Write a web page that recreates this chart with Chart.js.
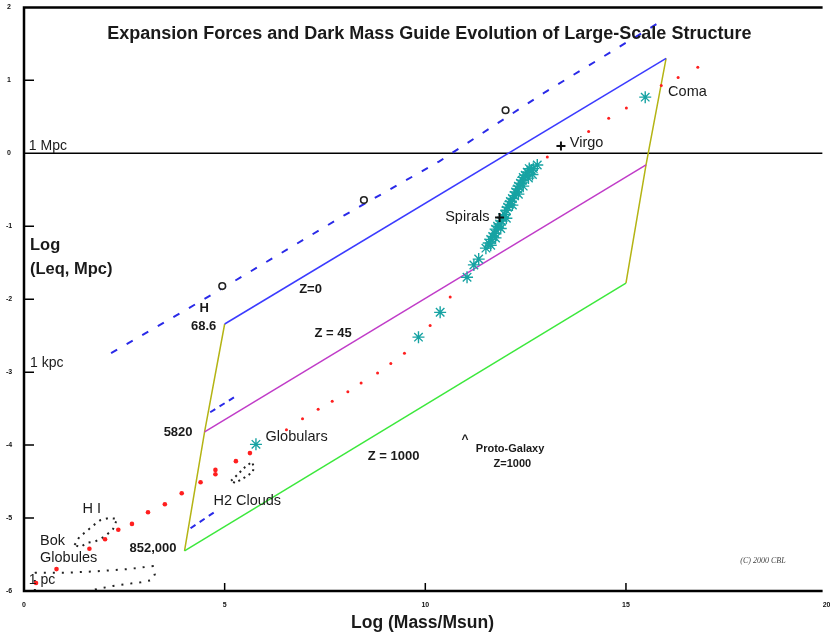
<!DOCTYPE html>
<html lang="en">
<head>
<meta charset="utf-8">
<title>Large-Scale Structure</title>
<script src="https://cdn.jsdelivr.net/npm/chart.js@4.4.1/dist/chart.umd.min.js"></script>
<style>
body {margin: 0; background: #fff;}
canvas {display: block;}
</style>
</head>
<body>
<canvas id="lss" width="830" height="636"></canvas>
<script>
// tick labels
const xTicks = [0, 5, 10, 15, 20];
const yTicks = [2, 1, 0, -1, -2, -3, -4, -5, -6];

// red dots : main sequence
const seqX = [0.30, 0.81, 1.63, 2.02, 2.35, 2.69, 3.09, 3.51, 3.93, 4.40, 4.77, 4.77, 5.28, 5.63, 6.54, 6.94, 7.33, 7.68, 8.07, 8.40, 8.81, 9.14, 9.48, 10.12, 10.62, 13.04, 14.07, 14.57, 15.01, 15.88, 16.30, 16.79];
const seqY = [-5.89, -5.70, -5.42, -5.29, -5.16, -5.08, -4.92, -4.81, -4.66, -4.51, -4.34, -4.40, -4.22, -4.11, -3.79, -3.64, -3.51, -3.40, -3.27, -3.15, -3.01, -2.88, -2.74, -2.36, -1.97, -0.05, 0.30, 0.48, 0.62, 0.93, 1.04, 1.18];

// teal asterisks : globulars, spirals, coma
const starX = [5.78, 9.83, 10.37, 11.04, 11.21, 11.33, 11.51, 11.58, 11.63, 11.68, 11.73, 11.75, 11.80, 11.85, 11.90, 11.93, 11.98, 12.02, 12.05, 12.10, 12.12, 12.17, 12.22, 12.25, 12.30, 12.32, 12.37, 12.42, 12.44, 12.49, 12.54, 12.59, 12.64, 12.69, 12.79, 11.88, 12.02, 12.17, 12.32, 12.44, 12.57, 12.67, 11.75, 11.63, 15.48];
const starY = [-3.99, -2.52, -2.18, -1.70, -1.53, -1.45, -1.30, -1.23, -1.18, -1.14, -1.10, -1.04, -1.00, -0.97, -0.93, -0.88, -0.84, -0.78, -0.74, -0.70, -0.66, -0.62, -0.58, -0.53, -0.49, -0.45, -0.41, -0.37, -0.33, -0.30, -0.26, -0.21, -0.23, -0.21, -0.16, -1.03, -0.89, -0.71, -0.56, -0.45, -0.34, -0.29, -1.16, -1.26, 0.77];

// black crosses (Spirals, Virgo) and rings
const plusX = [11.85, 13.38];
const plusY = [-0.88, 0.10];
const ringX = [4.94, 8.47, 12.0];
const ringY = [-1.82, -0.64, 0.59];

// redshift lines and parallelogram edges
const zeroX = [5, 16],     zeroY = [-2.34, 1.30];
const z45X = [4.5, 15.5],  z45Y = [-3.82, -0.16];
const z1000X = [4, 15],    z1000Y = [-5.45, -1.78];
const leftX = [5, 4.5, 4],     leftY = [-2.34, -3.82, -5.45];
const rightX = [16, 15.5, 15], rightY = [1.30, -0.16, -1.78];
const mpcX = [0, 19.9], mpcY = [0, 0];

// blue dashed tracks
const hubX = [2.17, 4.52, 7.98, 10.35, 12.99, 15.85];
const hubY = [-2.74, -1.99, -0.85, -0.11, 0.84, 1.80];
const dashAX = [4.64, 5.31], dashAY = [-3.55, -3.32];
const dashBX = [4.15, 4.74], dashBY = [-5.14, -4.92];

// dotted contours
const h2X = [5.16, 5.33, 5.51, 5.68, 5.73, 5.70, 5.51, 5.26, 5.16];
const h2Y = [-4.49, -4.40, -4.30, -4.23, -4.30, -4.37, -4.44, -4.52, -4.49];
const hiX = [1.26, 1.38, 1.56, 1.73, 1.90, 2.10, 2.32, 2.22, 2.02, 1.78, 1.56, 1.41, 1.26];
const hiY = [-5.37, -5.26, -5.18, -5.10, -5.03, -5.00, -5.01, -5.15, -5.25, -5.32, -5.34, -5.40, -5.37];
const bokX = [0.27, 1.06, 1.80, 2.57, 3.21, 3.26, 3.19, 2.91, 2.22, 1.85, 1.51, 0.89, 0.27, 0.27];
const bokY = [-5.75, -5.75, -5.73, -5.70, -5.66, -5.77, -5.85, -5.88, -5.93, -5.97, -6.01, -6.01, -6.01, -5.75];

function pts(xs, ys) {
	return xs.map(function (v, i) { return {x: v, y: ys[i]}; });
}

function line(xs, ys, color, extra) {
	return Object.assign({
		data: pts(xs, ys),
		showLine: true,
		borderColor: color,
		borderWidth: 1.5,
		pointRadius: 0,
		tension: 0
	}, extra || {});
}

const FONT = '"Liberation Sans", Arial, sans-serif';

// text written in the plot, placed in data units
const notes = [
	['1 Mpc', 0.12, 0.10, '14px', 'left'],
	['1 kpc', 0.15, -2.88, '14px', 'left'],
	['Log', 0.15, -1.27, 'bold 16.5px', 'left'],
	['(Leq, Mpc)', 0.15, -1.59, 'bold 16.5px', 'left'],
	['H', 4.49, -2.12, 'bold 13px', 'center'],
	['68.6', 4.79, -2.37, 'bold 13px', 'right'],
	['Z=0', 7.14, -1.86, 'bold 13px', 'center'],
	['Z = 45', 7.70, -2.47, 'bold 13px', 'center'],
	['5820', 4.20, -3.82, 'bold 13px', 'right'],
	['Globulars', 6.02, -3.89, '14.5px', 'left'],
	['Z = 1000', 9.21, -4.16, 'bold 13px', 'center'],
	['^', 10.99, -3.93, 'bold 12px', 'center'],
	['Proto-Galaxy', 11.26, -4.05, 'bold 11px', 'left'],
	['Z=1000', 12.17, -4.26, 'bold 11px', 'center'],
	['H2 Clouds', 4.72, -4.77, '14.5px', 'left'],
	['H I', 1.46, -4.88, '14.5px', 'left'],
	['Bok', 0.40, -5.32, '14.5px', 'left'],
	['Globules', 0.40, -5.55, '14.5px', 'left'],
	['852,000', 3.80, -5.42, 'bold 13px', 'right'],
	['1 pc', 0.12, -5.85, '14px', 'left'],
	['Spirals', 11.60, -0.88, '14.5px', 'right'],
	['Virgo', 13.60, 0.14, '14.5px', 'left'],
	['Coma', 16.05, 0.84, '14.5px', 'left']
];

const frame = {
	id: 'frame',
	afterDraw: function (chart) {
		const ctx = chart.ctx, a = chart.chartArea;
		const x = chart.scales.x, y = chart.scales.y;
		ctx.save();
		ctx.strokeStyle = '#000';
		ctx.lineWidth = 2.5;
		ctx.beginPath();
		ctx.moveTo(a.right, a.top);
		ctx.lineTo(a.left, a.top);
		ctx.lineTo(a.left, a.bottom);
		ctx.lineTo(a.right, a.bottom);
		ctx.stroke();

		// tick marks, inside the frame
		ctx.lineWidth = 1.5;
		ctx.beginPath();
		yTicks.forEach(function (t) {
			if (t === 2 || t === -6 || t === 0) return;
			const py = y.getPixelForValue(t);
			ctx.moveTo(a.left, py);
			ctx.lineTo(a.left + 10, py);
		});
		xTicks.forEach(function (t) {
			if (t === 0 || t === 20) return;
			const px = x.getPixelForValue(t);
			ctx.moveTo(px, a.bottom);
			ctx.lineTo(px, a.bottom - 8);
		});
		ctx.stroke();

		// tick labels
		ctx.fillStyle = '#111';
		ctx.font = 'bold 7px ' + FONT;
		ctx.textAlign = 'center';
		ctx.textBaseline = 'middle';
		yTicks.forEach(function (t) {
			ctx.fillText(String(t), a.left - 15, y.getPixelForValue(t));
		});
		xTicks.forEach(function (t) {
			ctx.fillText(String(t), x.getPixelForValue(t), a.bottom + 14);
		});

		// titles
		ctx.fillStyle = '#1a1a1a';
		ctx.font = 'bold 18px ' + FONT;
		ctx.fillText('Expansion Forces and Dark Mass Guide Evolution of Large-Scale Structure',
			x.getPixelForValue(10.1), y.getPixelForValue(1.64));
		ctx.font = 'bold 17.5px ' + FONT;
		ctx.fillText('Log (Mass/Msun)', x.getPixelForValue(9.93), a.bottom + 32);

		notes.forEach(function (n) {
			ctx.font = n[3] + ' ' + FONT;
			ctx.textAlign = n[4];
			ctx.fillText(n[0], x.getPixelForValue(n[1]), y.getPixelForValue(n[2]));
		});

		ctx.font = 'italic 8px "Liberation Serif", serif';
		ctx.textAlign = 'left';
		ctx.fillStyle = '#444';
		ctx.fillText('(C) 2000 CBL', x.getPixelForValue(17.85), y.getPixelForValue(-5.59));
		ctx.restore();
	}
};

new Chart(document.getElementById('lss'), {
	type: 'scatter',
	data: {
		datasets: [
			{data: pts(plusX, plusY), pointStyle: 'cross', pointRadius: 4.5, borderColor: '#111', borderWidth: 2},
			{data: pts(starX, starY), pointStyle: 'star', pointRadius: 6, borderColor: '#17a3a3', borderWidth: 1.4},
			{data: pts(ringX, ringY), pointStyle: 'circle', pointRadius: 3.3, borderColor: '#222', backgroundColor: '#fff', borderWidth: 1.6},
			{data: pts(seqX, seqY), pointStyle: 'circle', borderWidth: 0, backgroundColor: '#ff1f1f',
				pointRadius: function (c) { return c.raw && c.raw.x < 6 ? 2.3 : 1.5; }},
			line(h2X, h2Y, '#222', {borderWidth: 2, borderDash: [2, 4]}),
			line(hiX, hiY, '#222', {borderWidth: 2, borderDash: [2, 5]}),
			line(bokX, bokY, '#222', {borderWidth: 2, borderDash: [2, 7]}),
			line(hubX, hubY, '#2a2ae8', {borderWidth: 2, borderDash: [7, 11]}),
			line(dashAX, dashAY, '#2a2ae8', {borderWidth: 2, borderDash: [6, 5]}),
			line(dashBX, dashBY, '#2a2ae8', {borderWidth: 2, borderDash: [6, 5]}),
			line(zeroX, zeroY, '#3b3bff'),
			line(z45X, z45Y, '#c03cc8'),
			line(z1000X, z1000Y, '#3ce83c'),
			line(leftX, leftY, '#b4b414'),
			line(rightX, rightY, '#b4b414'),
			line(mpcX, mpcY, '#000', {borderWidth: 1.5})
		]
	},
	options: {
		responsive: false,
		animation: false,
		layout: {padding: {left: 24, top: 7, right: 0, bottom: 45}},
		plugins: {legend: {display: false}, tooltip: {enabled: false}},
		scales: {
			x: {type: 'linear', min: 0, max: 19.9, display: false},
			y: {type: 'linear', min: -6, max: 2, display: false}
		}
	},
	plugins: [frame]
});
</script>
</body>
</html>
